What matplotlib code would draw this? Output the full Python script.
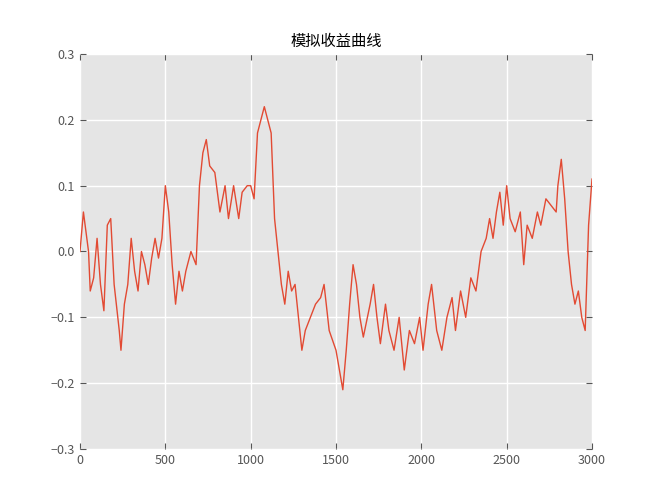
import matplotlib
matplotlib.use("Agg")
import matplotlib.pyplot as plt

steps = [0, 20, 50, 60, 80, 100, 120, 140, 160, 180, 200, 230, 240, 260, 280, 300, 320, 340, 360, 380,
         400, 420, 440, 460, 480, 500, 520, 540, 560, 580, 600, 620, 650, 680, 700, 720, 740, 760, 790, 820,
         850, 870, 900, 930, 950, 980, 1000, 1020, 1040, 1060, 1080, 1100, 1120, 1140, 1160, 1180, 1200, 1220, 1240, 1260,
         1280, 1300, 1320, 1350, 1380, 1410, 1430, 1460, 1500, 1520, 1540, 1560, 1580, 1600, 1620, 1640, 1660, 1700, 1720, 1740,
         1760, 1790, 1810, 1840, 1870, 1900, 1930, 1960, 1990, 2010, 2040, 2060, 2090, 2120, 2150, 2180, 2200, 2230, 2260, 2290,
         2320, 2350, 2380, 2400, 2420, 2440, 2460, 2480, 2500, 2520, 2550, 2580, 2600, 2620, 2650, 2680, 2700, 2730, 2760, 2790,
         2800, 2820, 2840, 2860, 2880, 2900, 2920, 2940, 2960, 2980, 3000]
returns = [0.0, 0.06, 0.0, -0.06, -0.04, 0.02, -0.05, -0.09, 0.04, 0.05, -0.05, -0.12, -0.15, -0.08, -0.05, 0.02, -0.03, -0.06, 0.0, -0.02,
           -0.05, -0.01, 0.02, -0.01, 0.02, 0.1, 0.06, -0.02, -0.08, -0.03, -0.06, -0.03, 0.0, -0.02, 0.1, 0.15, 0.17, 0.13, 0.12, 0.06,
           0.1, 0.05, 0.1, 0.05, 0.09, 0.1, 0.1, 0.08, 0.18, 0.2, 0.22, 0.2, 0.18, 0.05, 0.0, -0.05, -0.08, -0.03, -0.06, -0.05,
           -0.1, -0.15, -0.12, -0.1, -0.08, -0.07, -0.05, -0.12, -0.15, -0.18, -0.21, -0.15, -0.08, -0.02, -0.05, -0.1, -0.13, -0.08, -0.05, -0.1,
           -0.14, -0.08, -0.12, -0.15, -0.1, -0.18, -0.12, -0.14, -0.1, -0.15, -0.08, -0.05, -0.12, -0.15, -0.1, -0.07, -0.12, -0.06, -0.1, -0.04,
           -0.06, 0.0, 0.02, 0.05, 0.02, 0.06, 0.09, 0.04, 0.1, 0.05, 0.03, 0.06, -0.02, 0.04, 0.02, 0.06, 0.04, 0.08, 0.07, 0.06,
           0.1, 0.14, 0.08, 0.0, -0.05, -0.08, -0.06, -0.1, -0.12, 0.04, 0.11]

plt.rcParams['font.family'] = ['Noto Sans CJK SC', 'DejaVu Sans']
fig = plt.figure(figsize=(6.65, 5.03), dpi=100)
ax = fig.add_axes([80 / 665, 1 - 449 / 503, 512 / 665, 395 / 503])
ax.set_facecolor('#E5E5E5')
ax.plot(steps, returns, color='#E24A33', linewidth=1)
ax.set_xlim(0, 3000)
ax.set_ylim(-0.3, 0.3)
ax.set_xticks(range(0, 3001, 500))
ax.set_yticks([-0.3, -0.2, -0.1, 0.0, 0.1, 0.2, 0.3])
ax.grid(True, color='white', linewidth=1)
ax.set_axisbelow(True)
for s in ax.spines.values():
    s.set_visible(False)
ax.tick_params(direction='in', labelsize=9, colors='#555555', top=True, right=True, length=4)
ax.set_title('模拟收益曲线', fontsize=11, pad=6)
fig.savefig('out.png', dpi=100)
